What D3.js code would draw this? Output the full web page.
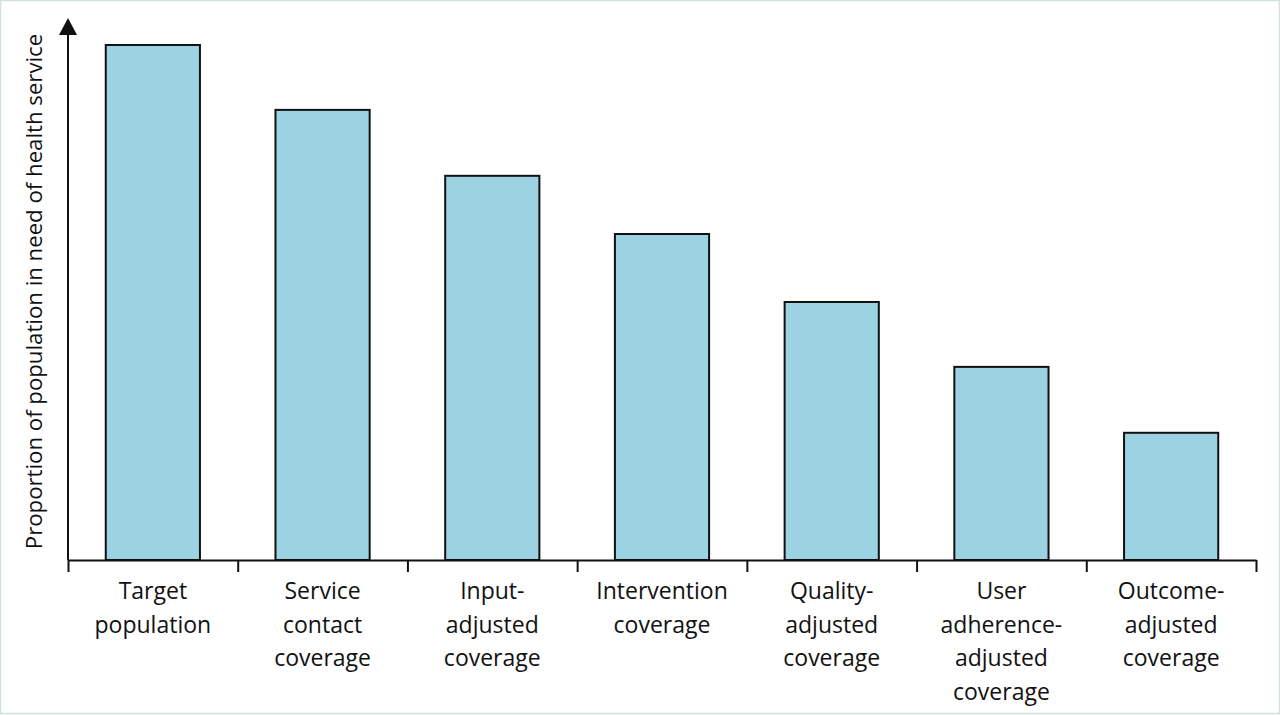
<!DOCTYPE html>
<html>
<head>
<meta charset="utf-8">
<script src="https://cdn.jsdelivr.net/npm/d3@7"></script>
<style>
  html, body { margin: 0; padding: 0; background: #fff; }
  svg { display: block; }
  text { font-family: "Open Sans", "Noto Sans", sans-serif; fill: #111; }
</style>
</head>
<body>
<svg id="chart"></svg>
<script>
"use strict";

// data
var categories = [
  ["Target", "population"],
  ["Service", "contact", "coverage"],
  ["Input-", "adjusted", "coverage"],
  ["Intervention", "coverage"],
  ["Quality-", "adjusted", "coverage"],
  ["User", "adherence-", "adjusted", "coverage"],
  ["Outcome-", "adjusted", "coverage"]
];
var values = [100, 87.4, 74.6, 63.3, 50.1, 37.5, 24.7];
var yLabel = "Proportion of population in need of health service";

var width = 1280, height = 715;
var margin = { top: 45, right: 24, bottom: 155, left: 68 };
var graphWidth = width - margin.left - margin.right;
var graphHeight = height - margin.top - margin.bottom;

var svg = d3.select("#chart").attr("width", width).attr("height", height);

// thin frame round the figure
svg.append("rect")
  .attr("x", 0.5).attr("y", 0.5)
  .attr("width", width - 1).attr("height", height - 2)
  .attr("fill", "none")
  .attr("stroke", "#cfe2dc")
  .attr("stroke-width", 1.5);

var g = svg.append("g")
  .attr("transform", "translate(" + margin.left + "," + margin.top + ")");

var xRange = d3.scaleBand()
  .domain(d3.range(categories.length))
  .range([0, graphWidth])
  .paddingInner(0.445)
  .paddingOuter(0.2225);

var yRange = d3.scaleLinear().domain([0, 100]).range([graphHeight, 0]);

// bars
g.selectAll(".bar")
  .data(values)
  .enter()
  .append("rect")
  .attr("class", "bar")
  .attr("fill", "#9bd3e3")
  .attr("stroke", "#111")
  .attr("stroke-width", 2)
  .attr("x", function (d, i) { return xRange(i); })
  .attr("width", xRange.bandwidth())
  .attr("y", function (d) { return yRange(d); })
  .attr("height", function (d) { return graphHeight - yRange(d); });

// x axis: ticks sit between categories
var xEdges = d3.scaleLinear().domain([0, categories.length]).range([0, graphWidth]);
var xAxis = d3.axisBottom(xEdges)
  .tickValues(d3.range(categories.length + 1))
  .tickSize(12)
  .tickSizeOuter(0)
  .tickFormat("");
var xg = g.append("g")
  .attr("class", "xaxis")
  .attr("transform", "translate(0," + graphHeight + ")")
  .call(xAxis);
xg.selectAll("path, line").attr("stroke", "#111").attr("stroke-width", 2);

// category labels
var labels = g.append("g").attr("class", "xlabels");
categories.forEach(function (lines, i) {
  var cx = xRange(i) + xRange.bandwidth() / 2;
  var t = labels.append("text")
    .attr("text-anchor", "middle")
    .attr("font-size", 23)
    .attr("x", cx)
    .attr("y", graphHeight + 39);
  lines.forEach(function (s, j) {
    t.append("tspan")
      .attr("x", cx)
      .attr("dy", j === 0 ? 0 : 33.5)
      .text(s);
  });
});

// y axis line with arrow head
var axisTop = -margin.top + 18;
g.append("line")
  .attr("x1", 0).attr("x2", 0)
  .attr("y1", graphHeight).attr("y2", axisTop + 10)
  .attr("stroke", "#111").attr("stroke-width", 2);
g.append("path")
  .attr("d", "M0," + axisTop + "L-9," + (axisTop + 17) + "L9," + (axisTop + 17) + "Z")
  .attr("fill", "#111");

// y label
g.append("text")
  .attr("transform", "translate(" + (-34) + "," + (graphHeight / 2 - 11) + ") rotate(-90)")
  .attr("text-anchor", "middle")
  .attr("dy", "0.35em")
  .attr("font-size", 22.2)
  .text(yLabel);
</script>
</body>
</html>
